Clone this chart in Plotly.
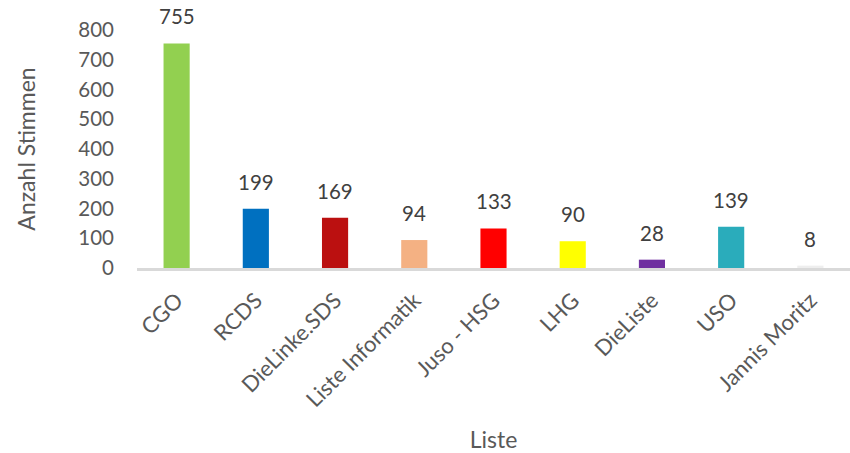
import plotly.graph_objects as go

categories = ["CGO", "RCDS", "DieLinke.SDS", "Liste Informatik", "Juso - HSG", "LHG", "DieListe", "USO", "Jannis Moritz"]
votes = [755, 199, 169, 94, 133, 90, 28, 139, 8]
bar_colors = ["#92d050", "#0070c0", "#bb1010", "#f4b183", "#ff0000", "#ffff00", "#7030a0", "#2aacbb", "#eeeeee"]
y_ticks = [0, 100, 200, 300, 400, 500, 600, 700, 800]

font_family = "Lato, 'Open Sans', sans-serif"

fig = go.Figure(go.Bar(
    x=categories, y=votes,
    marker=dict(color=bar_colors, line=dict(width=0)),
    width=0.33,
    cliponaxis=False,
    hoverinfo="skip",
))

for c, v in zip(categories, votes):
    fig.add_annotation(
        x=c, y=v, text=str(v), showarrow=False,
        yanchor="bottom", yshift=13,
        font=dict(size=20.5, color="#404040", family=font_family),
    )

fig.update_layout(
    width=850, height=453,
    margin=dict(l=137, r=0, t=30, b=185),
    plot_bgcolor="white", paper_bgcolor="white",
    showlegend=False,
    font=dict(family=font_family, color="#595959"),
    xaxis=dict(
        tickangle=-45, tickfont=dict(size=22, color="#595959"),
        showline=True, linecolor="#d9d9d9", linewidth=2.7,
        showgrid=False, ticks="", automargin=False,
        ticklabelstandoff=8,
        title=dict(text="Liste", font=dict(size=23, color="#595959"), standoff=22),
    ),
    yaxis=dict(
        range=[0, 800], tickvals=y_ticks,
        tickfont=dict(size=20.5, color="#595959"),
        showline=False, showgrid=False, zeroline=False, ticks="",
        ticklabelstandoff=22, automargin=False,
        title=dict(text="Anzahl Stimmen", font=dict(size=23, color="#595959"), standoff=36),
    ),
)

fig.write_html(
    "out.html",
    config={"displayModeBar": False},
    post_script="document.body.style.margin='0';document.body.style.overflow='hidden';",
)
